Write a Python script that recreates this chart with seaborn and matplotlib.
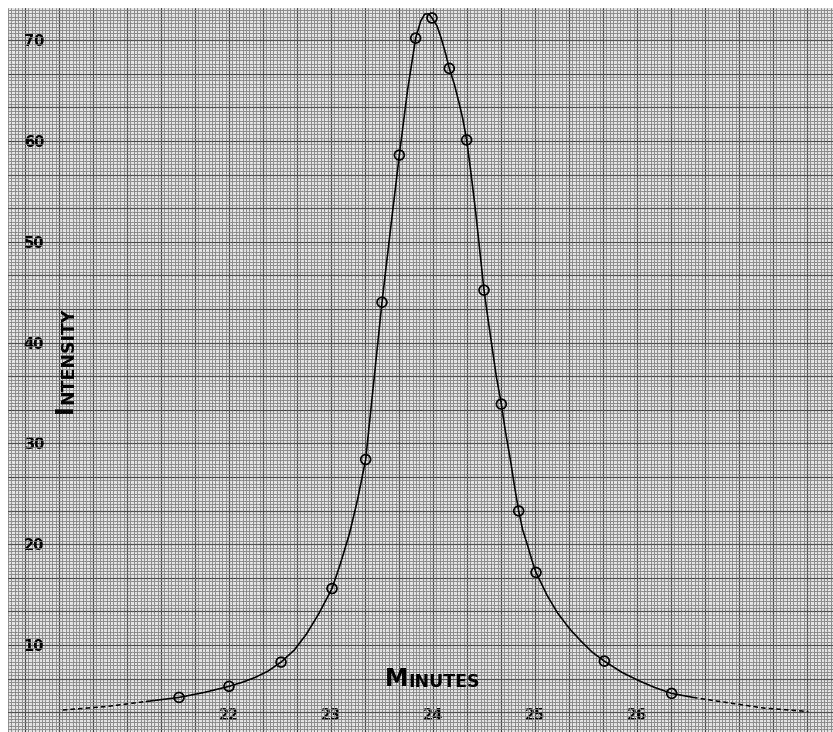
import matplotlib
matplotlib.use("Agg")
import matplotlib.pyplot as plt
import seaborn as sns
from matplotlib.ticker import MultipleLocator, FuncFormatter

# measured points (open circles)
minutes = [21.51, 22.00, 22.51, 23.01, 23.34, 23.50, 23.67, 23.83, 23.99,
           24.16, 24.33, 24.50, 24.67, 24.84, 25.01, 25.68, 26.34]
intensity = [4.8, 5.9, 8.3, 15.6, 28.4, 44.0, 58.6, 70.2, 72.2,
             67.2, 60.1, 45.2, 33.9, 23.3, 17.2, 8.4, 5.2]

# hand drawn curve
curve_x = [21.19, 21.51, 21.76, 22.00, 22.13, 22.26, 22.38, 22.51, 22.64, 22.76,
           22.88, 23.01, 23.09, 23.18, 23.26, 23.34, 23.42, 23.50, 23.59, 23.67,
           23.75, 23.83, 23.88, 23.92, 23.96, 23.99, 24.04, 24.08, 24.12, 24.16,
           24.21, 24.25, 24.29, 24.33, 24.37, 24.42, 24.46, 24.50, 24.54, 24.58,
           24.62, 24.67, 24.71, 24.76, 24.80, 24.84, 24.88, 24.93, 24.97, 25.01,
           25.12, 25.22, 25.34, 25.45, 25.56, 25.68, 25.85, 26.01, 26.17, 26.34,
           26.55]
curve_y = [4.4, 4.8, 5.3, 5.9, 6.3, 6.8, 7.4, 8.3, 9.5, 11.1,
           13.1, 15.6, 18.0, 21.0, 24.4, 28.4, 36.2, 44.0, 51.8, 58.6,
           65.0, 70.2, 71.9, 72.6, 72.6, 72.2, 71.4, 70.2, 68.8, 67.2,
           65.6, 64.0, 62.3, 60.1, 57.0, 52.8, 49.0, 45.2, 42.3, 39.5,
           36.7, 33.9, 31.2, 28.3, 25.7, 23.3, 21.4, 19.8, 18.4, 17.2,
           14.9, 13.2, 11.6, 10.4, 9.3, 8.4, 7.3, 6.5, 5.8, 5.2,
           4.8]
left_tail_x = [20.37, 20.80, 21.19]
left_tail_y = [3.55, 3.9, 4.4]
right_tail_x = [26.55, 26.81, 27.24, 27.68]
right_tail_y = [4.8, 4.4, 3.75, 3.4]

x_labels = [22, 23, 24, 25, 26]
y_labels = [10, 20, 30, 40, 50, 60, 70]

sns.set_theme(style="white")
plt.rcParams['font.family'] = ['DejaVu Sans']
plt.rcParams['text.color'] = 'black'

fig = plt.figure(figsize=(8.33, 7.32), dpi=100)
ax = fig.add_axes([8 / 833, 0, 825 / 833, 724 / 732])
ax.set_facecolor("#e2e2e2")

# graph paper
ax.xaxis.set_major_locator(MultipleLocator(1 / 3))
ax.xaxis.set_minor_locator(MultipleLocator(1 / 30))
ax.yaxis.set_major_locator(MultipleLocator(10 / 3))
ax.yaxis.set_minor_locator(MultipleLocator(1 / 3))
ax.grid(which="minor", color="#7c7c7c", linewidth=0.55)
ax.grid(which="major", color="#505050", linewidth=0.85)
ax.set_axisbelow(True)


def only(vals):
    def f(v, pos):
        r = round(v)
        if abs(v - r) < 1e-6 and r in vals:
            return str(r)
        return ""
    return f


ax.xaxis.set_major_formatter(FuncFormatter(only(x_labels)))
ax.yaxis.set_major_formatter(FuncFormatter(only(y_labels)))
ax.tick_params(axis="both", which="both", length=0, labelcolor="black")
ax.tick_params(axis="x", pad=-17, labelsize=10.5)
ax.tick_params(axis="y", pad=-26, labelsize=10.5)
for lab in ax.get_xticklabels() + ax.get_yticklabels():
    lab.set_fontweight("heavy")

# the curve
sns.lineplot(x=curve_x, y=curve_y, sort=False, color="black", linewidth=1.15, ax=ax)
sns.lineplot(x=left_tail_x, y=left_tail_y, sort=False, color="black",
             linewidth=1.1, ax=ax).lines[-1].set_dashes((3, 2))
sns.lineplot(x=right_tail_x, y=right_tail_y, sort=False, color="black",
             linewidth=1.1, ax=ax).lines[-1].set_dashes((3, 2))
ax.scatter(minutes, intensity, s=50, facecolors="none", edgecolors="black",
           linewidths=1.2, zorder=5)

ax.set_xlim(19.833, 27.922)
ax.set_ylim(1.37, 73.19)
for s in ax.spines.values():
    s.set_visible(False)
ax.set_xlabel("")
ax.set_ylabel("")

# small caps axis titles
t1 = fig.text(385 / 833, 1 - 686 / 732, "M", fontsize=17, fontweight="heavy",
              color="black")
ax.annotate("INUTES", xy=(1, 0), xycoords=t1, va="bottom", ha="left",
            fontsize=12.5, fontweight="heavy", color="black")

t2 = fig.text(77 / 833, 1 - 413 / 732, "I", fontsize=17, fontweight="heavy",
              rotation=90, ha="right", va="bottom", color="black")
ax.annotate("NTENSITY", xy=(1, 1), xycoords=t2, va="bottom", ha="right",
            fontsize=12.5, fontweight="heavy", rotation=90, color="black")

fig.savefig("out.png", dpi=100)
